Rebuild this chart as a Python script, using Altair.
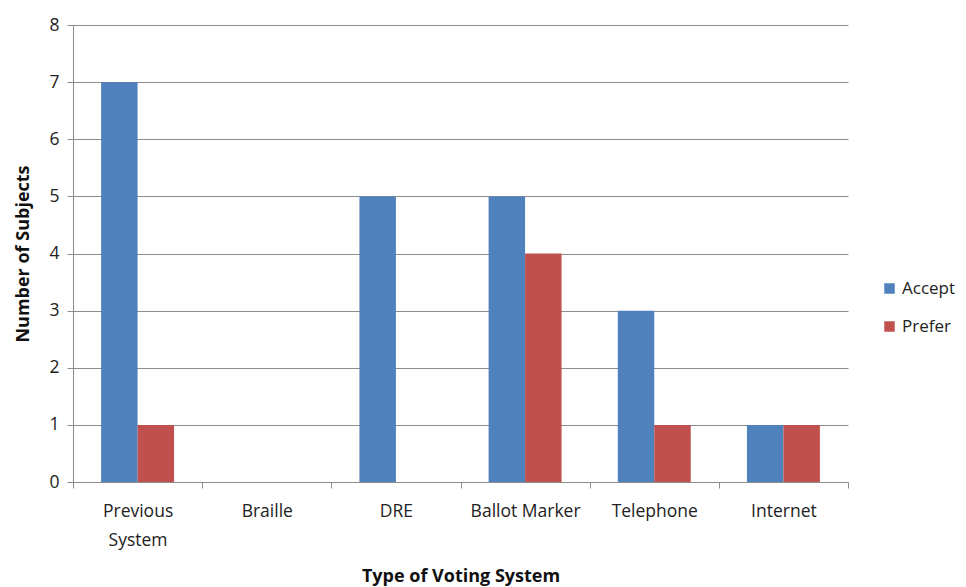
import altair as alt
import pandas as pd

categories = ["Previous System", "Braille", "DRE", "Ballot Marker", "Telephone", "Internet"]
accept = [7, 0, 5, 5, 3, 1]
prefer = [1, 0, 0, 4, 1, 1]
series = ["Accept", "Prefer"]
colors = ["#4F81BD", "#C0504D"]
y_ticks = [0, 1, 2, 3, 4, 5, 6, 7, 8]

rows = []
for c, a, p in zip(categories, accept, prefer):
    rows.append({"system": c, "series": "Accept", "value": a})
    rows.append({"system": c, "series": "Prefer", "value": p})
df = pd.DataFrame(rows)

FONT = "Open Sans"

chart = alt.Chart(df).mark_bar().encode(
    x=alt.X("system:N", sort=categories,
            scale=alt.Scale(paddingInner=0, paddingOuter=0),
            axis=alt.Axis(title="Type of Voting System", labelAngle=0, tickBand="extent",
                          labelExpr="datum.label == 'Previous System' ? ['Previous', 'System'] : datum.label",
                          labelFont=FONT, labelFontSize=17.5, labelColor="#222222",
                          labelPadding=14, labelLineHeight=29,
                          titleFont=FONT, titleFontSize=18, titleFontWeight="bold", titleColor="#111111",
                          titlePadding=19,
                          domainColor="#8c8c8c", tickColor="#8c8c8c", tickSize=6, grid=False)),
    xOffset=alt.XOffset("series:N", sort=series, scale=alt.Scale(paddingInner=0, paddingOuter=0.77)),
    y=alt.Y("value:Q", scale=alt.Scale(domain=[0, 8], nice=False),
            axis=alt.Axis(title="Number of Subjects", values=y_ticks, labelOverlap=False,
                          labelFont=FONT, labelFontSize=17.5, labelColor="#222222", labelPadding=8,
                          titleFont=FONT, titleFontSize=18, titleFontWeight="bold", titleColor="#111111",
                          titlePadding=16,
                          domainColor="#8c8c8c", tickColor="#8c8c8c", tickSize=6,
                          gridColor="#8c8c8c", gridWidth=1)),
    color=alt.Color("series:N", sort=series, scale=alt.Scale(domain=series, range=colors),
                    legend=alt.Legend(title=None, orient="none", legendX=808, legendY=255,
                                      symbolType="square", symbolSize=110, symbolStrokeWidth=0,
                                      labelFont=FONT, labelFontSize=17, labelColor="#222222",
                                      rowPadding=20, labelOffset=4)),
).properties(
    width=775, height=457,
    background="white",
    autosize=alt.AutoSizeParams(type="none"),
    padding={"left": 65, "top": 17, "right": 110, "bottom": 110},
).configure_view(stroke=None)

chart.save("out.html", embed_options={"renderer": "svg", "actions": False})
